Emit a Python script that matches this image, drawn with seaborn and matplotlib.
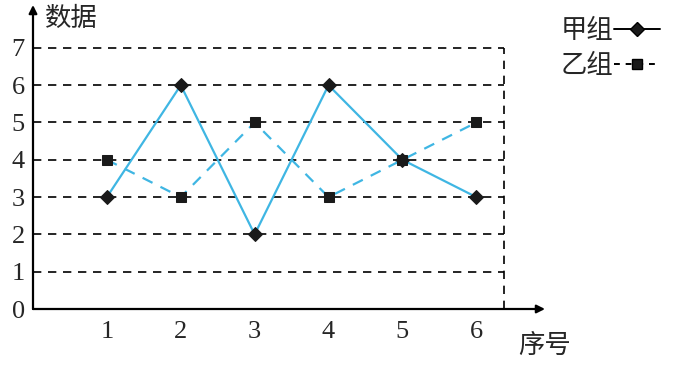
import matplotlib
matplotlib.use("Agg")
import matplotlib.pyplot as plt
import seaborn as sns
import pandas as pd
from matplotlib.lines import Line2D

sns.set_style("white")
plt.rcParams['font.family'] = ['Noto Sans CJK SC', 'DejaVu Sans']

x_vals = [1, 2, 3, 4, 5, 6]
group_a = [3, 6, 2, 6, 4, 3]   # 甲组
group_b = [4, 3, 5, 3, 4, 5]   # 乙组
y_ticks = [0, 1, 2, 3, 4, 5, 6, 7]
series_names = ["甲组", "乙组"]
x_label = "序号"
y_label = "数据"

blue = "#3fb6e3"
W, H = 676, 371
fig = plt.figure(figsize=(W / 100, H / 100), dpi=100)
ax = fig.add_axes([33 / W, (H - 309) / H, (545 - 33) / W, (309 - 5) / H])
ax.set_xlim(0, 6.93)
ax.set_ylim(0, 8.15)

xr = 6.38
for yv in y_ticks[1:]:
    ax.plot([0, xr], [yv, yv], color="black", lw=1.2, ls=(0, (5, 4)), zorder=1)
ax.plot([xr, xr], [0, 7], color="black", lw=1.2, ls=(0, (5, 4)), zorder=1)

df = pd.DataFrame({"x": x_vals, "a": group_a, "b": group_b})
sns.lineplot(data=df, x="x", y="a", ax=ax, color=blue, lw=1.6, marker="D",
             markersize=7.5, markerfacecolor="#1a1a1a", markeredgecolor="#1a1a1a", zorder=3)
sns.lineplot(data=df, x="x", y="b", ax=ax, color=blue, lw=1.6, ls=(0, (5, 4)), marker="s",
             markersize=7, markerfacecolor="#1a1a1a", markeredgecolor="#1a1a1a", zorder=3)

for s in ax.spines.values():
    s.set_visible(False)
ax.annotate("", xy=(6.93, 0), xytext=(0, 0),
            arrowprops=dict(arrowstyle="-|>", color="black", lw=1.6, mutation_scale=12,
                            shrinkA=0, shrinkB=0), annotation_clip=False)
ax.annotate("", xy=(0, 8.15), xytext=(0, 0),
            arrowprops=dict(arrowstyle="-|>", color="black", lw=1.6, mutation_scale=12,
                            shrinkA=0, shrinkB=0), annotation_clip=False)

ax.set_xticks(x_vals)
ax.set_xticklabels([str(v) for v in x_vals], family="Liberation Serif", fontsize=19)
ax.set_yticks(y_ticks)
ax.set_yticklabels([str(v) for v in y_ticks], family="Liberation Serif", fontsize=19)
ax.tick_params(axis="x", direction="in", length=6, width=1.3, pad=9, color="black")
ax.tick_params(axis="y", length=0, pad=6)
ax.set_xlabel("")
ax.set_ylabel("")
ax.grid(False)

fig.text(45 / W, 1 - 18 / H, y_label, fontsize=19, va="center", ha="left")
fig.text(518 / W, 1 - 345 / H, x_label, fontsize=19, va="center", ha="left")

handles = [
    Line2D([], [], color="black", lw=1.4, marker="D", markersize=7.5, markerfacecolor="#1a1a1a"),
    Line2D([], [], color="black", lw=1.4, ls=(0, (3, 3)), marker="s", markersize=7, markerfacecolor="#1a1a1a"),
]
fig.legend(handles, series_names, loc="upper left", bbox_to_anchor=(547 / W, 1 - 4 / H),
           frameon=False, markerfirst=False, fontsize=19, handlelength=1.75, handletextpad=0.05,
           labelspacing=0.3, borderpad=0)

fig.savefig("out.png", dpi=100)
